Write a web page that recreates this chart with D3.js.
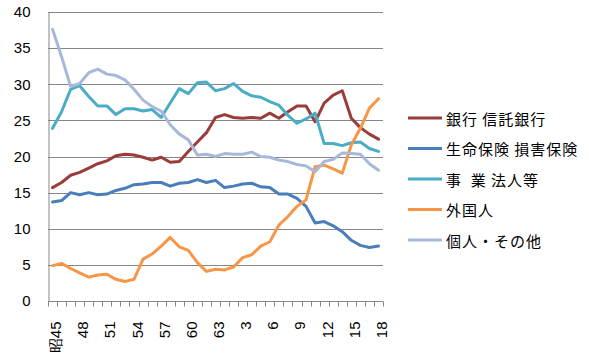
<!DOCTYPE html>
<html>
<head>
<meta charset="utf-8">
<script src="https://cdn.jsdelivr.net/npm/d3@7"></script>
<style>
  html, body { margin: 0; padding: 0; background: #fff; }
  svg { display: block; }
  text { font-family: "Liberation Sans", Arial, sans-serif; fill: #000; }
  .legend text { font-family: "Noto Sans CJK JP", sans-serif; }
</style>
</head>
<body>
<svg id="chart" width="589" height="356"></svg>
<script>
// Categories: 昭和45 (1970) .. 平成18 (2006)
const years = ["昭45","46","47","48","49","50","51","52","53","54","55","56","57","58","59","60","61","62","63",
               "元","2","3","4","5","6","7","8","9","10","11","12","13","14","15","16","17","18"];
const tickLabels = ["昭45","48","51","54","57","60","63","3","6","9","12","15","18"];
const yTicks = [0,5,10,15,20,25,30,35,40];

const seriesNames = ["銀行 信託銀行","生命保険 損害保険","事  業 法人等","外国人","個人・その他"];
const seriesColors = ["#9A3C39","#4A7EBB","#4BACC6","#F79646","#A7B8DB"];

const banks = [15.7,16.4,17.4,17.8,18.4,19.0,19.4,20.1,20.3,20.2,19.9,19.5,19.9,19.2,19.3,20.7,22.0,23.3,25.4,
               25.8,25.4,25.3,25.4,25.3,26.0,25.3,26.2,27.0,27.0,24.8,27.4,28.5,29.1,25.3,24.0,23.1,22.4];
const insurance = [13.7,13.9,15.0,14.7,15.0,14.7,14.8,15.3,15.6,16.1,16.2,16.4,16.4,15.9,16.3,16.4,16.8,16.4,16.7,
                   15.7,15.9,16.2,16.3,15.8,15.7,14.8,14.8,14.2,13.1,10.8,11.0,10.4,9.6,8.4,7.7,7.4,7.6];
const corporations = [23.9,26.2,29.3,29.8,28.3,27.0,27.0,25.8,26.6,26.6,26.3,26.5,25.4,27.4,29.4,28.7,30.2,30.3,29.1,
                      29.4,30.1,29.0,28.4,28.2,27.6,27.1,25.7,24.6,25.2,26.0,21.8,21.8,21.5,21.9,22.0,21.1,20.7];
const foreigners = [4.9,5.2,4.5,3.9,3.3,3.6,3.7,3.0,2.7,3.0,5.8,6.5,7.6,8.8,7.5,7.0,5.3,4.1,4.4,
                    4.3,4.7,6.0,6.4,7.6,8.2,10.5,11.7,13.1,14.0,18.6,18.8,18.3,17.7,21.6,23.9,26.7,28.0];
const individuals = [37.6,33.8,29.7,30.1,31.6,32.1,31.4,31.2,30.6,29.3,27.8,26.9,26.3,24.4,23.1,22.3,20.2,20.3,20.0,
                     20.4,20.3,20.3,20.6,20.0,19.9,19.5,19.3,18.9,18.7,17.9,19.3,19.6,20.5,20.4,20.3,19.0,18.1];

const allSeries = [banks, insurance, corporations, foreigners, individuals];

const svg = d3.select("#chart");
const mLeft = 48, mRight = 383, mTop = 12, mBottom = 301;

const x = d3.scaleBand().domain(years.map((d,i)=>i)).range([mLeft, mRight]).padding(0);
const y = d3.scaleLinear().domain([0, 40]).range([mBottom, mTop]);
const cx = i => x(i) + x.bandwidth()/2;

// gridlines
svg.append("g").selectAll("line").data(yTicks.filter(d=>d>0)).join("line")
  .attr("x1", mLeft).attr("x2", mRight)
  .attr("y1", d=>Math.round(y(d))+0.5).attr("y2", d=>Math.round(y(d))+0.5)
  .attr("stroke", "#868686").attr("stroke-width", 1);

// y axis
const yAxis = d3.axisLeft(y).tickValues(yTicks).tickSize(0).tickPadding(18);
const gy = svg.append("g").attr("transform", `translate(${mLeft+0.5},0)`).call(yAxis);
gy.select(".domain").attr("stroke", "#868686");
gy.selectAll("text").attr("font-size", 15).attr("font-family", "Liberation Sans, Arial, sans-serif").attr("fill","#000");

// x axis with ticks between categories
const gx = svg.append("g").attr("transform", `translate(0,${mBottom+0.5})`);
gx.append("line").attr("x1", mLeft).attr("x2", mRight).attr("stroke", "#868686");
const boundaries = d3.range(years.length + 1).map(i => i === years.length ? mRight : x(i));
gx.selectAll("line.tk").data(boundaries).join("line").attr("class","tk")
  .attr("x1", d=>Math.round(d)+0.5).attr("x2", d=>Math.round(d)+0.5)
  .attr("y1", 0).attr("y2", 5).attr("stroke", "#868686");

gx.selectAll("text").data(years.map((d,i)=>({d,i})).filter(o=>tickLabels.includes(o.d))).join("text")
  .attr("transform", o => `translate(${cx(o.i)+3},${20}) rotate(-90)`)
  .attr("text-anchor", "end")
  .attr("dominant-baseline", "central")
  .attr("font-size", 15)
  .text(o => o.d);

// lines
const line = d3.line().x((d,i)=>cx(i)).y(d=>y(d));
svg.append("g").selectAll("path").data(allSeries).join("path")
  .attr("d", d=>line(d))
  .attr("fill", "none")
  .attr("stroke", (d,i)=>seriesColors[i])
  .attr("stroke-width", 3)
  .attr("stroke-linejoin", "round")
  .attr("stroke-linecap", "round");

// legend
const lg = svg.append("g").attr("class","legend");
const rows = lg.selectAll("g").data(seriesNames).join("g")
  .attr("transform", (d,i)=>`translate(408,${118 + i*30.5})`);
rows.append("line").attr("x1",0).attr("x2",34).attr("y1",0).attr("y2",0)
  .attr("stroke",(d,i)=>seriesColors[i]).attr("stroke-width",3);
rows.append("text").attr("x",38).attr("y",0).attr("dominant-baseline","central")
  .attr("font-size",15).attr("letter-spacing", 1).style("white-space","pre").text(d=>d);
</script>
</body>
</html>
